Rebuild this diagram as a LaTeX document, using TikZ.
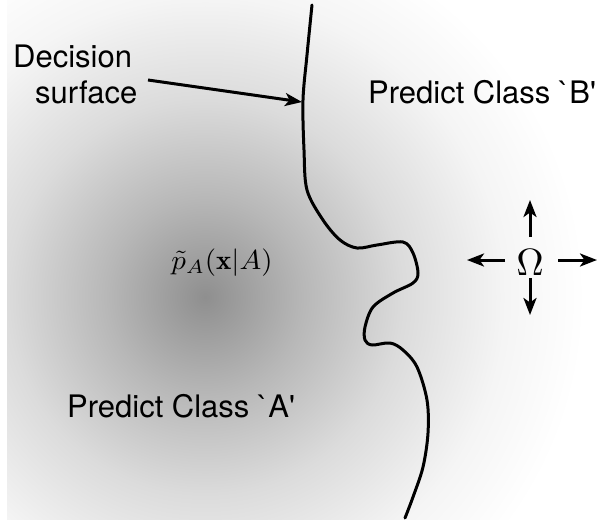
\documentclass[tikz,border=0pt]{standalone}
\usepackage{fontspec}
\newfontfamily\sansf[Ligatures=TeXOff]{TeX Gyre Heros}
\usetikzlibrary{arrows.meta}
\pgfdeclareradialshading{blob}{\pgfpointorigin}{color(0bp)=(black!44); color(6.5bp)=(black!28); color(13bp)=(black!14); color(19.75bp)=(black!4); color(25bp)=(white); color(50bp)=(white)}
\begin{document}
\begin{tikzpicture}[x=1pt,y=-1pt,
  lbl/.style={font=\sansf\fontsize{31}{37}\selectfont, inner sep=0pt, anchor=base west},
  curve/.style={line width=3pt, line join=round, line cap=round},
  arr/.style={line width=3pt, -{Stealth[length=17pt,width=13pt,inset=4.5pt]}}]
\useasboundingbox (0,0) rectangle (602,520);
\begin{scope}
  \clip (7,0) rectangle (602,519);
  \shade[shading=blob] (205,297) circle (380pt);
\end{scope}
% decision surface
\draw[curve] plot[smooth, tension=0.55] coordinates {
  (312,5) (307,55) (303,100) (304,150) (307,190) (323,220) (340,240) (357,248)
  (377,245) (403,242) (413,253) (418,273) (413,283) (393,293) (373,307)
  (365,327) (365,340) (372,345) (390,343) (403,350) (417,367) (427,400)
  (428,433) (423,467) (413,497) (405,518)};
% labels
\node[lbl] (dec1) at (13,67) {Decision};
\node[lbl] (dec2) at (35,103) {surface};
\node[lbl] (clB) at (368,103) {Predict Class `B'};
\node[lbl] (clA) at (67,417) {Predict Class `A'};
\node[xscale=2.9, yscale=2.75, inner sep=0pt, anchor=base] (pA) at (222,269) {$\tilde{p}_A(\mathbf{x}|A)$};
\node[scale=3.8, inner sep=0pt, anchor=base] (om) at (530,275) {$\Omega$};
% arrows
\coordinate (decS) at (148,80);
\coordinate (decE) at (302,102);
\draw[arr] (decS) -- (decE);
\coordinate (upS) at (530,237); \coordinate (upE) at (530,200);
\coordinate (dnS) at (530,278); \coordinate (dnE) at (530,315);
\coordinate (lfS) at (505,260); \coordinate (lfE) at (467,260);
\coordinate (rtS) at (558,260); \coordinate (rtE) at (597,260);
\draw[arr] (upS) -- (upE);
\draw[arr] (dnS) -- (dnE);
\draw[arr] (lfS) -- (lfE);
\draw[arr] (rtS) -- (rtE);
\end{tikzpicture}
\end{document}
